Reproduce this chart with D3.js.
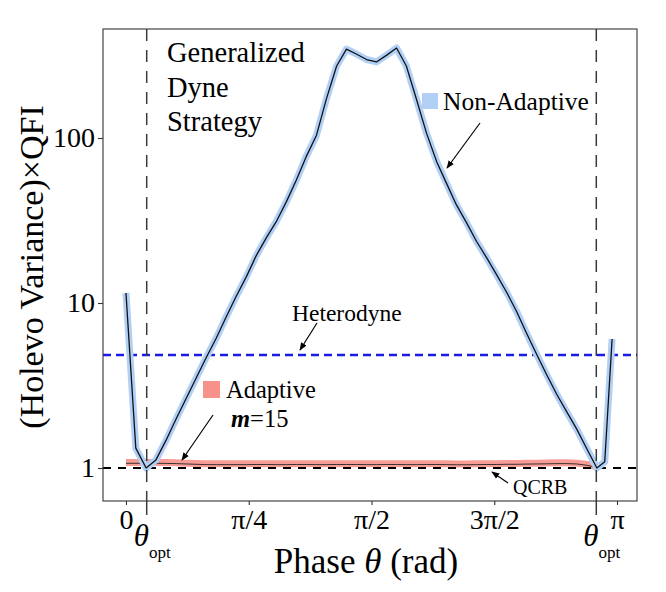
<!DOCTYPE html>
<html><head><meta charset="utf-8">
<script src="https://cdn.jsdelivr.net/npm/d3@7"></script>
<style>body{margin:0;background:#fff} text{font-family:'Liberation Serif','Times New Roman',serif}</style>
</head><body>
<svg id="c" width="666" height="592"></svg>
<script>
// ---- data (θ in units of π) ----
const thetaPi = [0, 0.020, 0.041, 0.061, 0.082, 0.102, 0.122, 0.143, 0.163, 0.184,
  0.204, 0.224, 0.245, 0.265, 0.286, 0.306, 0.327, 0.347, 0.367, 0.388,
  0.408, 0.429, 0.449, 0.469, 0.490, 0.510, 0.531, 0.551, 0.571, 0.592,
  0.612, 0.633, 0.653, 0.673, 0.694, 0.714, 0.735, 0.755, 0.776, 0.796,
  0.816, 0.837, 0.857, 0.878, 0.898, 0.918, 0.939, 0.959, 0.975, 0.990];
const nonAdaptive = [11.5, 1.32, 1.00, 1.12, 1.48, 1.98, 2.62, 3.51, 4.64, 6.14,
  8.23, 10.9, 14.4, 19.3, 24.9, 31.1, 41.3, 55.6, 77.1, 104,
  172, 273, 346, 323, 299, 289, 318, 351, 273, 170,
  107, 71.6, 52.9, 39.3, 30.5, 23.6, 18.7, 14.8, 11.5, 8.82,
  6.53, 4.84, 3.66, 2.77, 2.18, 1.72, 1.30, 1.00, 1.09, 6.05];
const adaptive = [1.08, 1.08, 1.08, 1.08, 1.078, 1.075, 1.07, 1.065, 1.06, 1.06,
  1.06, 1.06, 1.06, 1.062, 1.062, 1.06, 1.06, 1.062, 1.062, 1.06,
  1.06, 1.062, 1.062, 1.062, 1.06, 1.06, 1.062, 1.062, 1.06, 1.06,
  1.062, 1.062, 1.06, 1.058, 1.058, 1.06, 1.062, 1.062, 1.065, 1.065,
  1.068, 1.07, 1.072, 1.075, 1.075, 1.07, 1.05, 1.02];
const heterodyne = 4.84;
const qcrb = 1;
const thetaOptPi = 0.0422;
const yTicks = [1, 10, 100];
const xTickVals = [0, 0.25, 0.5, 0.75, 1];
const xTickLabels = ["0", "π/4", "π/2", "3π/2", "π"];
const legendLabels = ["Non-Adaptive", "Adaptive"];
const legendColors = ["#b2d0f6", "#f7928b"];

const FONT = "'Liberation Serif','Times New Roman',serif";
const svg = d3.select("#c");
const L = 103, R = 637, T = 29, B = 501;

const x = d3.scaleLinear().domain([-0.0468, 1.0407]).range([L, R]);
const y = d3.scaleLog().domain([1, 100]).range([468, 138]);

function txt(sel) { return sel.attr("font-family", FONT).style("font-family", FONT).attr("fill", "#000"); }

svg.append("defs").append("clipPath").attr("id", "clip")
  .append("rect").attr("x", L).attr("y", T).attr("width", R - L).attr("height", B - T);
const marker = svg.select("defs").append("marker").attr("id", "arr")
  .attr("viewBox", "0 0 10 10").attr("refX", 9).attr("refY", 5)
  .attr("markerWidth", 8).attr("markerHeight", 8).attr("markerUnits", "userSpaceOnUse")
  .attr("orient", "auto");
marker.append("path").attr("d", "M0,1 L10,5 L0,9 Z").attr("fill", "#000");

const g = svg.append("g").attr("clip-path", "url(#clip)");

// reference lines
g.append("line").attr("x1", L).attr("x2", R).attr("y1", y(heterodyne)).attr("y2", y(heterodyne))
  .attr("stroke", "#1b1be6").attr("stroke-width", 2.3).attr("stroke-dasharray", "8,5");
[thetaOptPi, 1 - thetaOptPi].forEach(t => {
  svg.append("line").attr("x1", x(t)).attr("x2", x(t)).attr("y1", T).attr("y2", B)
    .attr("stroke", "#3a3a3a").attr("stroke-width", 1.5).attr("stroke-dasharray", "12,9");
  svg.append("line").attr("x1", x(t)).attr("x2", x(t)).attr("y1", B).attr("y2", B + 14)
    .attr("stroke", "#3a3a3a").attr("stroke-width", 1.5);
});

const line = d3.line().x(d => x(d[0])).y(d => y(d[1]));
const naData = thetaPi.map((t, i) => [t, nonAdaptive[i]]);
const adData = adaptive.map((v, i) => [thetaPi[i], v]);

g.append("path").datum(adData).attr("d", line).attr("fill", "none")
  .attr("stroke", legendColors[1]).attr("stroke-width", 7).attr("stroke-linejoin", "round").attr("opacity", 0.9);
g.append("path").datum(adData).attr("d", line).attr("fill", "none")
  .attr("stroke", "#222").attr("stroke-width", 0.9).attr("transform", "translate(0,0.8)");

g.append("line").attr("x1", L).attr("x2", R).attr("y1", y(qcrb)).attr("y2", y(qcrb))
  .attr("stroke", "#000").attr("stroke-width", 2).attr("stroke-dasharray", "8,7");

g.append("path").datum(naData).attr("d", line).attr("fill", "none")
  .attr("stroke", legendColors[0]).attr("stroke-width", 7).attr("stroke-linejoin", "round");
g.append("path").datum(naData).attr("d", line).attr("fill", "none")
  .attr("stroke", "#111").attr("stroke-width", 1.3).attr("stroke-linejoin", "round");

// panel border
svg.append("rect").attr("x", L).attr("y", T).attr("width", R - L).attr("height", B - T)
  .attr("fill", "none").attr("stroke", "#333").attr("stroke-width", 1.1);

// axes
const ya = svg.append("g").attr("transform", `translate(${L},0)`)
  .call(d3.axisLeft(y).tickValues(yTicks).tickFormat(d3.format("d")).tickSize(5).tickPadding(3));
const xa = svg.append("g").attr("transform", `translate(0,${B})`)
  .call(d3.axisBottom(x).tickValues(xTickVals).tickFormat((d, i) => xTickLabels[i]).tickSize(4).tickPadding(4));
[ya, xa].forEach(a => {
  a.attr("font-family", FONT).attr("font-size", 28);
  a.select(".domain").remove();
  a.selectAll("line").attr("stroke", "#333").attr("stroke-width", 1.1);
  txt(a.selectAll("text")).style("font-size", "28px");
});

// θ_opt labels
[thetaOptPi, 1 - thetaOptPi].forEach(t => {
  const tx = txt(svg.append("text")).attr("x", x(t) - 13).attr("y", 546).style("font-size", "31px");
  tx.append("tspan").attr("font-style", "italic").text("θ");
  tx.append("tspan").attr("dx", 0).attr("dy", 12).style("font-size", "17px").text("opt");
});

// axis titles
const xt = txt(svg.append("text")).attr("x", 366).attr("y", 573).attr("text-anchor", "middle")
  .style("font-size", "35px");
xt.append("tspan").text("Phase ");
xt.append("tspan").attr("font-style", "italic").text("θ");
xt.append("tspan").text(" (rad)");
txt(svg.append("text")).attr("transform", `translate(43,${(T + B) / 2 + 2}) rotate(-90)`)
  .attr("text-anchor", "middle").style("font-size", "34px").text("(Holevo Variance)×QFI");

// annotation text
["Generalized", "Dyne", "Strategy"].forEach((s, i) => {
  txt(svg.append("text")).attr("x", 167).attr("y", 62 + i * 34.5).style("font-size", "28.5px").text(s);
});

// legends
svg.append("rect").attr("x", 422).attr("y", 93).attr("width", 16).attr("height", 16).attr("fill", legendColors[0]);
txt(svg.append("text")).attr("x", 443).attr("y", 110).style("font-size", "25.5px").text(legendLabels[0]);
svg.append("rect").attr("x", 203).attr("y", 381).attr("width", 17).attr("height", 17).attr("fill", legendColors[1]);
txt(svg.append("text")).attr("x", 226).attr("y", 398).style("font-size", "24.5px").text(legendLabels[1]);
const mt = txt(svg.append("text")).attr("x", 231).attr("y", 427).style("font-size", "24.5px");
mt.append("tspan").attr("font-weight", "bold").attr("font-style", "italic").text("m");
mt.append("tspan").text("=15");

txt(svg.append("text")).attr("x", 292).attr("y", 321).style("font-size", "23.5px").text("Heterodyne");
txt(svg.append("text")).attr("x", 513).attr("y", 494).style("font-size", "20px").text("QCRB");

// arrows
const arrows = [[480, 123, 447, 168], [317, 323, 300, 350], [213, 415, 182, 460], [508, 483, 492, 472]];
arrows.forEach(a => {
  svg.append("line").attr("x1", a[0]).attr("y1", a[1]).attr("x2", a[2]).attr("y2", a[3])
    .attr("stroke", "#000").attr("stroke-width", 1.2).attr("marker-end", "url(#arr)");
});
</script>
</body></html>
